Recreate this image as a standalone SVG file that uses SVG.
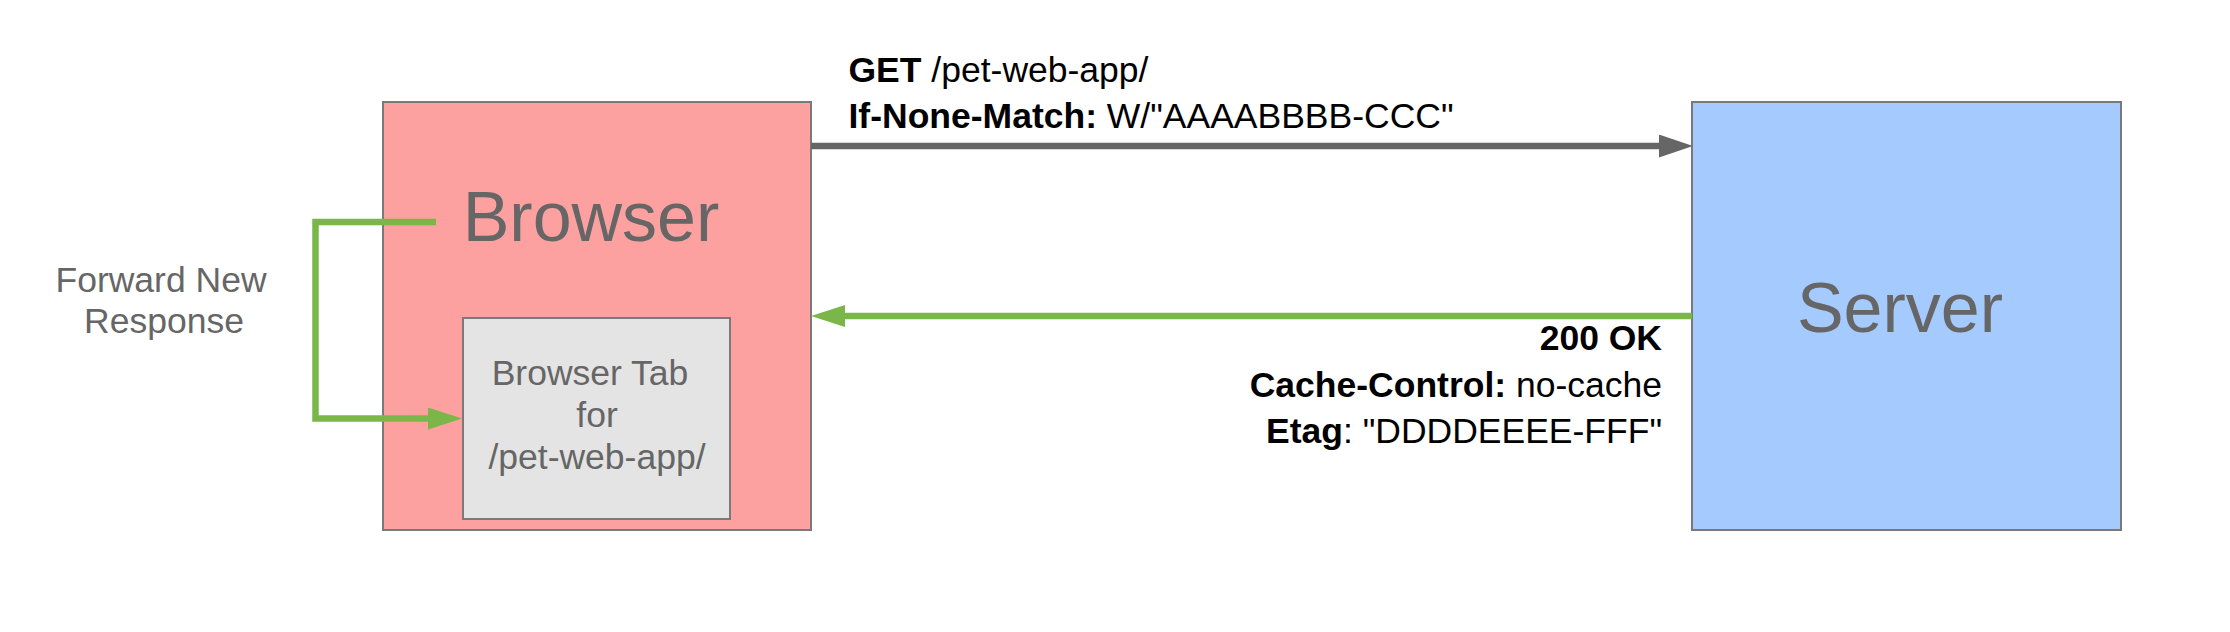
<svg xmlns="http://www.w3.org/2000/svg" width="2230" height="632" viewBox="0 0 2230 632">
  <defs>
    <style>
      text { font-family: "Liberation Sans", Arial, sans-serif; }
      .box { stroke: #7a7a7a; stroke-width: 2; }
      .title { font-size: 70px; fill: #666666; text-anchor: middle; }
      .sub { font-size: 35.5px; fill: #666666; text-anchor: middle; }
      .hdr { font-size: 35.5px; fill: #000000; }
      .b { font-weight: bold; }
      .gray { stroke: #666666; stroke-width: 6.5; fill: none; }
      .green { stroke: #7ab648; stroke-width: 6.5; fill: none; }
    </style>
    <marker id="ah-gray" markerUnits="userSpaceOnUse" markerWidth="34" markerHeight="23" refX="14" refY="11.5" orient="auto">
      <path d="M0,0 L34,11.5 L0,23 Z" fill="#666666"/>
    </marker>
    <marker id="ah-green" markerUnits="userSpaceOnUse" markerWidth="34" markerHeight="22" refX="14" refY="11" orient="auto">
      <path d="M0,0 L34,11 L0,22 Z" fill="#7ab648"/>
    </marker>
  </defs>
  <rect width="2230" height="632" fill="#ffffff"/>

  <g id="browser">
    <rect class="box" x="383" y="102" width="428" height="428" fill="#fda0a0"/>
    <text class="title" x="591" y="241">Browser</text>
  </g>

  <g id="browser-tab">
    <rect class="box" x="463" y="318" width="267" height="201" fill="#e4e4e4"/>
    <text class="sub" x="590" y="385">Browser Tab</text>
    <text class="sub" x="597" y="427">for</text>
    <text class="sub" x="597" y="469">/pet-web-app/</text>
  </g>

  <g id="server">
    <rect class="box" x="1692" y="102" width="429" height="428" fill="#a4cafe"/>
    <text class="title" x="1900" y="332">Server</text>
  </g>

  <g id="connectors">
    <path class="gray" d="M811,146 L1673,146" marker-end="url(#ah-gray)"/>
    <path class="green" d="M1692,316 L831,316" marker-end="url(#ah-green)"/>
    <path class="green" d="M436,222 L315.5,222 L315.5,418.5 L442,418.5" marker-end="url(#ah-green)"/>
  </g>

  <g id="labels">
    <text class="hdr" x="848.5" y="82"><tspan class="b">GET</tspan> /pet-web-app/</text>
    <text class="hdr" x="848.5" y="128"><tspan class="b">If-None-Match:</tspan> W/"AAAABBBB-CCC"</text>
    <text class="hdr" x="1662" y="350" text-anchor="end"><tspan class="b">200 OK</tspan></text>
    <text class="hdr" x="1662" y="397" text-anchor="end"><tspan class="b">Cache-Control:</tspan> no-cache</text>
    <text class="hdr" x="1662" y="443" text-anchor="end"><tspan class="b">Etag</tspan>: "DDDDEEEE-FFF"</text>
    <text class="sub" x="161" y="292">Forward New</text>
    <text class="sub" x="164" y="333">Response</text>
  </g>
</svg>
